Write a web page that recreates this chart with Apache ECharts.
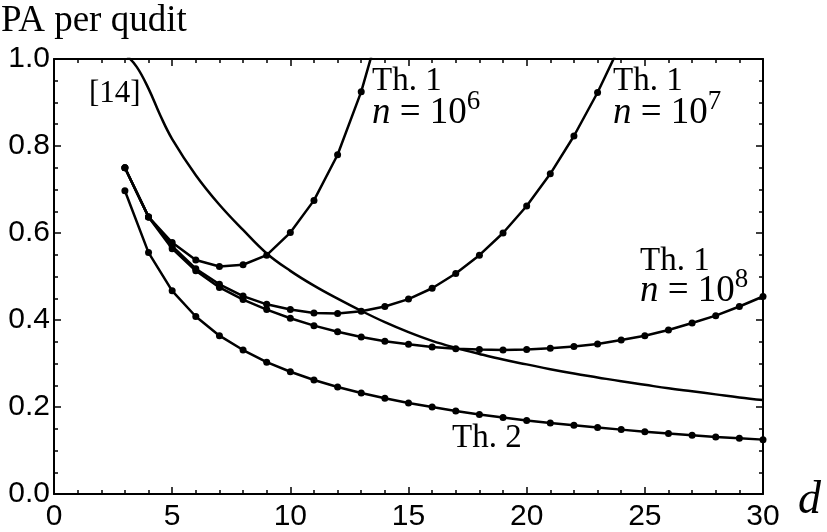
<!DOCTYPE html>
<html>
<head>
<meta charset="utf-8">
<script src="https://cdn.jsdelivr.net/npm/echarts@6/dist/echarts.min.js"></script>
<style>
  html, body { margin: 0; padding: 0; background: #fff; }
  #main { width: 827px; height: 532px; }
</style>
</head>
<body>
<div id="main"></div>
<script>
var myChart = echarts.init(document.getElementById('main'));

// d values (dots at every integer d)
var dAll = [3, 4, 5, 6, 7, 8, 9, 10, 11, 12, 13, 14, 15, 16, 17, 18, 19, 20, 21, 22, 23, 24, 25, 26, 27, 28, 29, 30];

// Th. 2
var th2 = [0.697, 0.555, 0.467, 0.408, 0.364, 0.331, 0.303, 0.281, 0.262, 0.246, 0.232, 0.220, 0.209, 0.200,
  0.191, 0.183, 0.176, 0.169, 0.163, 0.158, 0.153, 0.148, 0.143, 0.139, 0.135, 0.131, 0.128, 0.125];

// Th. 1, n = 10^8
var th1n8 = [0.750, 0.637, 0.564, 0.513, 0.475, 0.447, 0.424, 0.404, 0.387, 0.373, 0.361, 0.351, 0.344, 0.338,
  0.334, 0.332, 0.331, 0.332, 0.335, 0.339, 0.345, 0.354, 0.364, 0.377, 0.393, 0.410, 0.431, 0.454];

// Th. 1, n = 10^7 (d = 3..24, last one above the frame)
var th1n7 = [0.750, 0.637, 0.570, 0.518, 0.482, 0.455, 0.436, 0.424, 0.416, 0.415, 0.420, 0.431, 0.448, 0.473,
  0.507, 0.549, 0.600, 0.662, 0.736, 0.823, 0.923, 1.037];

// Th. 1, n = 10^6 (d = 3..14, last one above the frame)
var th1n6 = [0.750, 0.637, 0.578, 0.538, 0.523, 0.527, 0.549, 0.601, 0.675, 0.780, 0.925, 1.115];

// [14], smooth curve, no dots
var ref14D = [3, 3.5, 4, 4.5, 5, 6, 7, 8, 9, 10, 11, 12, 13, 14, 15, 16, 17, 18, 19, 20, 21, 22, 23, 24, 25, 26, 27, 28, 29, 30];
var ref14 = [1.012, 0.982, 0.932, 0.870, 0.816, 0.733, 0.665, 0.607, 0.553, 0.513, 0.479, 0.449, 0.421, 0.395,
  0.372, 0.352, 0.336, 0.322, 0.309, 0.298, 0.287, 0.277, 0.268, 0.259, 0.251, 0.243, 0.236, 0.229, 0.222, 0.216];

function pairs(xs, ys) {
  return ys.map(function (v, i) { return [xs[i], v]; });
}

var serifFont = 'Liberation Serif';
var black = '#000';

function dotted(name, ys) {
  return {
    name: name,
    type: 'line',
    data: pairs(dAll, ys),
    symbol: 'circle',
    symbolSize: 7,
    clip: true,
    lineStyle: { color: black, width: 2.5 },
    itemStyle: { color: black },
    emphasis: { disabled: true }
  };
}

function axisCommon(extra) {
  var base = {
    type: 'value',
    axisLine: { show: true, onZero: false, lineStyle: { color: black, width: 2 } },
    axisTick: { show: true, inside: true, length: 7, lineStyle: { color: black, width: 1.5 } },
    splitLine: { show: false },
    minorSplitLine: { show: false }
  };
  return Object.assign(base, extra);
}

function label(x, y, text, size, rich) {
  return {
    type: 'text',
    left: x,
    top: y,
    style: {
      text: text,
      fill: black,
      font: size + 'px "' + serifFont + '"',
      rich: rich || {}
    }
  };
}

var nRich = {
  i: { fontFamily: serifFont, fontStyle: 'italic', fontSize: 37, lineHeight: 50 },
  r: { fontFamily: serifFont, fontSize: 37, lineHeight: 50 },
  s: { fontFamily: serifFont, fontSize: 27, lineHeight: 27, verticalAlign: 'top' }
};

var option = {
  animation: false,
  grid: { left: 54, right: 64, top: 59, bottom: 36, containLabel: false },
  xAxis: [
    axisCommon({
      min: 0, max: 30, interval: 5, position: 'bottom',
      minorTick: { show: true, splitNumber: 5, length: 4, lineStyle: { color: black, width: 1.5 } },
      axisLabel: { color: black, fontFamily: 'Liberation Sans', fontSize: 30, margin: 8 }
    }),
    axisCommon({
      min: 0, max: 30, interval: 5, position: 'top',
      minorTick: { show: true, splitNumber: 5, length: 4, lineStyle: { color: black, width: 1.5 } },
      axisLabel: { show: false }
    })
  ],
  yAxis: [
    axisCommon({
      min: 0, max: 1, interval: 0.2, position: 'left',
      minorTick: { show: true, splitNumber: 4, length: 4, lineStyle: { color: black, width: 1.5 } },
      axisLabel: {
        color: black, fontFamily: 'Liberation Sans', fontSize: 30, margin: 4,
        formatter: function (v) { return v.toFixed(1); }
      }
    }),
    axisCommon({
      min: 0, max: 1, interval: 0.2, position: 'right',
      minorTick: { show: true, splitNumber: 4, length: 4, lineStyle: { color: black, width: 1.5 } },
      axisLabel: { show: false }
    })
  ],
  graphic: [
    label(1, 3, 'PA per qudit', 37),
    label(89, 78, '[14]', 31),
    label(372, 65, 'Th. 1', 33),
    label(372, 88, '{i|n}{r| = 10}{s|6}', 37, nRich),
    label(613, 65, 'Th. 1', 33),
    label(613, 88, '{i|n}{r| = 10}{s|7}', 37, nRich),
    label(640, 245, 'Th. 1', 33),
    label(640, 266, '{i|n}{r| = 10}{s|8}', 37, nRich),
    label(452, 422, 'Th. 2', 33),
    {
      type: 'text', left: 798, top: 478,
      style: { text: 'd', fill: black, font: 'italic 46px "' + serifFont + '"' }
    }
  ],
  series: [
    dotted('Th. 2', th2),
    dotted('Th. 1, n = 10^8', th1n8),
    dotted('Th. 1, n = 10^7', th1n7),
    dotted('Th. 1, n = 10^6', th1n6),
    {
      name: '[14]',
      type: 'line',
      data: pairs(ref14D, ref14),
      showSymbol: false,
      smooth: 0.4,
      clip: true,
      lineStyle: { color: black, width: 2.5 },
      emphasis: { disabled: true }
    }
  ]
};

option && myChart.setOption(option);
</script>
</body>
</html>
